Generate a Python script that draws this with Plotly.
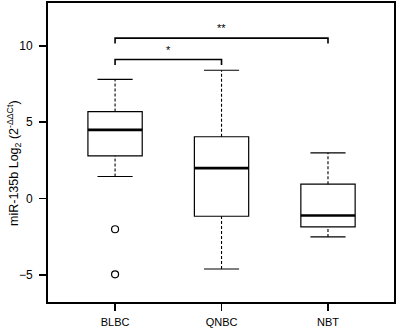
import plotly.graph_objects as go

categories = ["BLBC", "QNBC", "NBT"]
lower_whisker = [1.45, -4.6, -2.5]
q1 = [2.8, -1.15, -1.85]
median = [4.5, 2.0, -1.1]
q3 = [5.7, 4.05, 0.95]
upper_whisker = [7.8, 8.4, 3.0]
outlier_group = [0, 0]
outlier_values = [-2.0, -4.95]
y_ticks = [-5, 0, 5, 10]
y_title = "miR-135b Log<sub>2</sub> (2<sup>-ΔΔCt</sup>)"

brackets = [  # (from idx, to idx, level, label)
    (0, 1, 9.1, "*"),
    (0, 2, 10.5, "**"),
]

BOX_W = 0.51
CAP_W = 0.33
xs = list(range(len(categories)))

fig = go.Figure()

fig.add_trace(go.Box(
    x=xs, q1=q1, median=median, q3=q3, lowerfence=q1, upperfence=q3,
    width=BOX_W, fillcolor="white", line=dict(color="black", width=1.2),
    boxpoints=False, whiskerwidth=0, showlegend=False, hoverinfo="skip"))

for i in xs:
    for a, b in ((lower_whisker[i], q1[i]), (q3[i], upper_whisker[i])):
        fig.add_trace(go.Scatter(x=[i, i], y=[a, b], mode="lines",
                                 line=dict(color="black", width=1.1, dash="3px,2px"),
                                 showlegend=False, hoverinfo="skip"))
    for v in (lower_whisker[i], upper_whisker[i]):
        fig.add_trace(go.Scatter(x=[i - CAP_W / 2, i + CAP_W / 2], y=[v, v], mode="lines",
                                 line=dict(color="black", width=1.2),
                                 showlegend=False, hoverinfo="skip"))
    fig.add_trace(go.Scatter(x=[i - BOX_W / 2, i + BOX_W / 2], y=[median[i], median[i]],
                             mode="lines", line=dict(color="black", width=2.6),
                             showlegend=False, hoverinfo="skip"))

fig.add_trace(go.Scatter(x=outlier_group, y=outlier_values, mode="markers",
                         marker=dict(symbol="circle-open", size=7, color="black",
                                     line=dict(width=1.2)),
                         showlegend=False, hoverinfo="skip"))

for a, b, lvl, lab in brackets:
    fig.add_trace(go.Scatter(x=[a, a, b, b], y=[lvl - 0.35, lvl, lvl, lvl - 0.35],
                             mode="lines", line=dict(color="black", width=1.6),
                             showlegend=False, hoverinfo="skip"))
    fig.add_annotation(x=(a + b) / 2, y=lvl, text=lab, showarrow=False,
                       yanchor="bottom", yshift=2,
                       font=dict(family="Liberation Sans, Arial", size=11, color="black"))

fig.add_annotation(x=0, y=0.465, xref="paper", yref="paper", text=y_title,
                   textangle=-90, showarrow=False, xanchor="center", yanchor="middle",
                   xshift=-34, font=dict(family="Liberation Sans, Arial", size=12.5, color="black"))

fig.update_layout(
    width=398, height=334,
    margin=dict(l=48, r=4, t=3, b=32, autoexpand=False),
    paper_bgcolor="white", plot_bgcolor="white",
    font=dict(family="Liberation Sans, Arial", color="black", size=12),
    xaxis=dict(range=[-0.63, 2.62], tickvals=xs, ticktext=categories,
               showgrid=False, zeroline=False, showline=True, mirror=True,
               linecolor="black", linewidth=2, ticks="outside", ticklen=7,
               tickwidth=1.5, tickcolor="black", tickfont=dict(size=11),
               automargin=False, ticklabelstandoff=2),
    yaxis=dict(range=[-6.76, 12.8], tickvals=y_ticks,
               showgrid=False, zeroline=False, showline=True, mirror=True,
               linecolor="black", linewidth=2, ticks="outside", ticklen=7,
               tickwidth=1.5, tickcolor="black", tickfont=dict(size=12),
               automargin=False, ticklabelstandoff=4),
)

fig.write_html("out.html", config={"displayModeBar": False, "staticPlot": True},
               post_script="document.body.style.margin='0';document.body.style.overflow='hidden';")
